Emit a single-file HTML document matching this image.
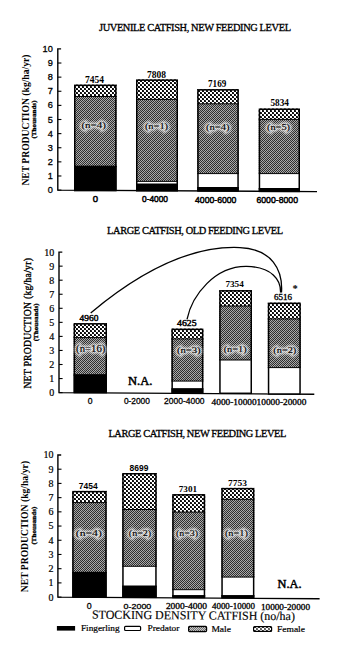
<!DOCTYPE html><html><head><meta charset="utf-8"><style>html,body{margin:0;padding:0;background:#fff;}svg{display:block;}</style></head><body>
<svg width="350" height="650" viewBox="0 0 350 650">
<defs>
<pattern id="xh" patternUnits="userSpaceOnUse" width="4" height="4"><rect width="4" height="4" fill="#fff"/><rect x="0" y="0" width="2" height="2" fill="#0a0a0a"/><rect x="2" y="2" width="2" height="2" fill="#0a0a0a"/><rect x="1" y="0" width="1" height="1" fill="#303030"/><rect x="3" y="2" width="1" height="1" fill="#303030"/></pattern>
<pattern id="mh" patternUnits="userSpaceOnUse" width="6" height="6"><rect x="0" y="0" width="1" height="1" fill="#2a2a2a"/><rect x="1" y="0" width="1" height="1" fill="#aeaeae"/><rect x="2" y="0" width="1" height="1" fill="#2a2a2a"/><rect x="3" y="0" width="1" height="1" fill="#aeaeae"/><rect x="4" y="0" width="1" height="1" fill="#3c3c3c"/><rect x="5" y="0" width="1" height="1" fill="#9a9a9a"/><rect x="0" y="1" width="1" height="1" fill="#aeaeae"/><rect x="1" y="1" width="1" height="1" fill="#2a2a2a"/><rect x="2" y="1" width="1" height="1" fill="#aeaeae"/><rect x="3" y="1" width="1" height="1" fill="#3c3c3c"/><rect x="4" y="1" width="1" height="1" fill="#9a9a9a"/><rect x="5" y="1" width="1" height="1" fill="#2a2a2a"/><rect x="0" y="2" width="1" height="1" fill="#2a2a2a"/><rect x="1" y="2" width="1" height="1" fill="#aeaeae"/><rect x="2" y="2" width="1" height="1" fill="#3c3c3c"/><rect x="3" y="2" width="1" height="1" fill="#9a9a9a"/><rect x="4" y="2" width="1" height="1" fill="#2a2a2a"/><rect x="5" y="2" width="1" height="1" fill="#aeaeae"/><rect x="0" y="3" width="1" height="1" fill="#aeaeae"/><rect x="1" y="3" width="1" height="1" fill="#3c3c3c"/><rect x="2" y="3" width="1" height="1" fill="#9a9a9a"/><rect x="3" y="3" width="1" height="1" fill="#2a2a2a"/><rect x="4" y="3" width="1" height="1" fill="#aeaeae"/><rect x="5" y="3" width="1" height="1" fill="#2a2a2a"/><rect x="0" y="4" width="1" height="1" fill="#3c3c3c"/><rect x="1" y="4" width="1" height="1" fill="#9a9a9a"/><rect x="2" y="4" width="1" height="1" fill="#2a2a2a"/><rect x="3" y="4" width="1" height="1" fill="#aeaeae"/><rect x="4" y="4" width="1" height="1" fill="#2a2a2a"/><rect x="5" y="4" width="1" height="1" fill="#aeaeae"/><rect x="0" y="5" width="1" height="1" fill="#9a9a9a"/><rect x="1" y="5" width="1" height="1" fill="#2a2a2a"/><rect x="2" y="5" width="1" height="1" fill="#aeaeae"/><rect x="3" y="5" width="1" height="1" fill="#2a2a2a"/><rect x="4" y="5" width="1" height="1" fill="#aeaeae"/><rect x="5" y="5" width="1" height="1" fill="#3c3c3c"/></pattern>
<filter id="blr" x="-20%" y="-50%" width="140%" height="200%"><feGaussianBlur stdDeviation="0.8"/></filter>
</defs>
<rect width="350" height="650" fill="#fff"/>
<text x="99" y="30.6" font-size="10.4" font-family='"Liberation Serif", serif' font-weight="normal" text-anchor="start" textLength="192" lengthAdjust="spacing" stroke="#000" stroke-width="0.3">JUVENILE CATFISH, NEW FEEDING LEVEL</text>
<path d="M61.099999999999994,48.9 L57.8,48.9 L57.8,190.1 L317,191.6" fill="none" stroke="#000" stroke-width="1.4"/>
<line x1="57.8" y1="190.10" x2="61.4" y2="190.10" stroke="#000" stroke-width="1.1"/>
<line x1="57.8" y1="175.98" x2="61.4" y2="175.98" stroke="#000" stroke-width="1.1"/>
<line x1="57.8" y1="161.86" x2="61.4" y2="161.86" stroke="#000" stroke-width="1.1"/>
<line x1="57.8" y1="147.74" x2="61.4" y2="147.74" stroke="#000" stroke-width="1.1"/>
<line x1="57.8" y1="133.62" x2="61.4" y2="133.62" stroke="#000" stroke-width="1.1"/>
<line x1="57.8" y1="119.50" x2="61.4" y2="119.50" stroke="#000" stroke-width="1.1"/>
<line x1="57.8" y1="105.38" x2="61.4" y2="105.38" stroke="#000" stroke-width="1.1"/>
<line x1="57.8" y1="91.26" x2="61.4" y2="91.26" stroke="#000" stroke-width="1.1"/>
<line x1="57.8" y1="77.14" x2="61.4" y2="77.14" stroke="#000" stroke-width="1.1"/>
<line x1="57.8" y1="63.02" x2="61.4" y2="63.02" stroke="#000" stroke-width="1.1"/>
<text x="52.8" y="193.10" font-size="9.2" font-family='"Liberation Sans", sans-serif' font-weight="normal" text-anchor="end" stroke="#000" stroke-width="0.3">0</text>
<text x="52.8" y="178.98" font-size="9.2" font-family='"Liberation Sans", sans-serif' font-weight="normal" text-anchor="end" stroke="#000" stroke-width="0.3">1</text>
<text x="52.8" y="164.86" font-size="9.2" font-family='"Liberation Sans", sans-serif' font-weight="normal" text-anchor="end" stroke="#000" stroke-width="0.3">2</text>
<text x="52.8" y="150.74" font-size="9.2" font-family='"Liberation Sans", sans-serif' font-weight="normal" text-anchor="end" stroke="#000" stroke-width="0.3">3</text>
<text x="52.8" y="136.62" font-size="9.2" font-family='"Liberation Sans", sans-serif' font-weight="normal" text-anchor="end" stroke="#000" stroke-width="0.3">4</text>
<text x="52.8" y="122.50" font-size="9.2" font-family='"Liberation Sans", sans-serif' font-weight="normal" text-anchor="end" stroke="#000" stroke-width="0.3">5</text>
<text x="52.8" y="108.38" font-size="9.2" font-family='"Liberation Sans", sans-serif' font-weight="normal" text-anchor="end" stroke="#000" stroke-width="0.3">6</text>
<text x="52.8" y="94.26" font-size="9.2" font-family='"Liberation Sans", sans-serif' font-weight="normal" text-anchor="end" stroke="#000" stroke-width="0.3">7</text>
<text x="52.8" y="80.14" font-size="9.2" font-family='"Liberation Sans", sans-serif' font-weight="normal" text-anchor="end" stroke="#000" stroke-width="0.3">8</text>
<text x="52.8" y="66.02" font-size="9.2" font-family='"Liberation Sans", sans-serif' font-weight="normal" text-anchor="end" stroke="#000" stroke-width="0.3">9</text>
<text x="52.8" y="51.90" font-size="9.2" font-family='"Liberation Sans", sans-serif' font-weight="normal" text-anchor="end" stroke="#000" stroke-width="0.3">10</text>
<text transform="translate(29.3,185.6) rotate(-90)" x="0" y="0" font-size="9.6" font-family='"Liberation Serif", serif' font-weight="bold" textLength="131" lengthAdjust="spacing" >NET PRODUCTION (kg/ha/yr)</text>
<text transform="translate(36.3,138.5) rotate(-90)" x="0" y="0" font-size="7" font-family='"Liberation Serif", serif' font-weight="bold" textLength="38" lengthAdjust="spacing" stroke="#000" stroke-width="0.3">(Thousands)</text>
<rect x="74" y="84.6" width="42.599999999999994" height="11.900000000000006" fill="url(#xh)"/>
<rect x="74" y="96.5" width="42.599999999999994" height="69.80000000000001" fill="url(#mh)"/>
<rect x="74" y="166.3" width="42.599999999999994" height="24.299999999999983" fill="#000"/>
<line x1="74" y1="96.5" x2="116.6" y2="96.5" stroke="#000" stroke-width="1"/>
<line x1="74" y1="166.3" x2="116.6" y2="166.3" stroke="#000" stroke-width="1"/>
<line x1="74" y1="166.3" x2="116.6" y2="166.3" stroke="#000" stroke-width="1"/>
<rect x="74.75" y="85.35" width="41.099999999999994" height="105.25" fill="none" stroke="#000" stroke-width="1.5"/>
<rect x="136" y="79.4" width="42" height="20.0" fill="url(#xh)"/>
<rect x="136" y="99.4" width="42" height="82.0" fill="url(#mh)"/>
<rect x="136" y="181.4" width="42" height="2.5999999999999943" fill="#fff"/>
<rect x="136" y="184" width="42" height="6.800000000000011" fill="#000"/>
<line x1="136" y1="99.4" x2="178" y2="99.4" stroke="#000" stroke-width="1"/>
<line x1="136" y1="181.4" x2="178" y2="181.4" stroke="#000" stroke-width="1"/>
<line x1="136" y1="184" x2="178" y2="184" stroke="#000" stroke-width="1"/>
<rect x="136.75" y="80.15" width="40.5" height="110.65" fill="none" stroke="#000" stroke-width="1.5"/>
<rect x="197.2" y="89.1" width="41.60000000000002" height="14.700000000000003" fill="url(#xh)"/>
<rect x="197.2" y="103.8" width="41.60000000000002" height="69.8" fill="url(#mh)"/>
<rect x="197.2" y="173.6" width="41.60000000000002" height="13.900000000000006" fill="#fff"/>
<rect x="197.2" y="187.5" width="41.60000000000002" height="3.5" fill="#000"/>
<line x1="197.2" y1="103.8" x2="238.8" y2="103.8" stroke="#000" stroke-width="1"/>
<line x1="197.2" y1="173.6" x2="238.8" y2="173.6" stroke="#000" stroke-width="1"/>
<line x1="197.2" y1="187.5" x2="238.8" y2="187.5" stroke="#000" stroke-width="1"/>
<rect x="197.95" y="89.85" width="40.10000000000002" height="101.15" fill="none" stroke="#000" stroke-width="1.5"/>
<rect x="258.7" y="108.5" width="41.30000000000001" height="10.900000000000006" fill="url(#xh)"/>
<rect x="258.7" y="119.4" width="41.30000000000001" height="54.19999999999999" fill="url(#mh)"/>
<rect x="258.7" y="173.6" width="41.30000000000001" height="14.900000000000006" fill="#fff"/>
<rect x="258.7" y="188.5" width="41.30000000000001" height="2.9000000000000057" fill="#000"/>
<line x1="258.7" y1="119.4" x2="300" y2="119.4" stroke="#000" stroke-width="1"/>
<line x1="258.7" y1="173.6" x2="300" y2="173.6" stroke="#000" stroke-width="1"/>
<line x1="258.7" y1="188.5" x2="300" y2="188.5" stroke="#000" stroke-width="1"/>
<rect x="259.45" y="109.25" width="39.80000000000001" height="82.15" fill="none" stroke="#000" stroke-width="1.5"/>
<text x="94.6" y="82.9" font-size="9.5" font-family='"Liberation Serif", serif' font-weight="bold" text-anchor="middle" textLength="19" lengthAdjust="spacingAndGlyphs" >7454</text>
<text x="156.5" y="77.6" font-size="9.5" font-family='"Liberation Serif", serif' font-weight="bold" text-anchor="middle" textLength="19" lengthAdjust="spacingAndGlyphs" >7808</text>
<text x="217.2" y="87" font-size="9.5" font-family='"Liberation Serif", serif' font-weight="bold" text-anchor="middle" textLength="18.3" lengthAdjust="spacingAndGlyphs" >7169</text>
<text x="279.7" y="105.7" font-size="9.5" font-family='"Liberation Serif", serif' font-weight="bold" text-anchor="middle" textLength="18.5" lengthAdjust="spacingAndGlyphs" >5834</text>
<text x="93.6" y="128.4" font-size="8" font-family='"Liberation Serif", serif' text-anchor="middle" stroke="#fff" stroke-width="3.2" fill="#fff" filter="url(#blr)" opacity="0.7" textLength="24.4" lengthAdjust="spacingAndGlyphs">(n=4)</text>
<text x="93.6" y="128.4" font-size="8" font-family='"Liberation Serif", serif' font-weight="normal" stroke="#000" stroke-width="0.12" text-anchor="middle" fill="#000" textLength="24.4" lengthAdjust="spacingAndGlyphs">(n=4)</text>
<text x="156.5" y="129.4" font-size="8" font-family='"Liberation Serif", serif' text-anchor="middle" stroke="#fff" stroke-width="3.2" fill="#fff" filter="url(#blr)" opacity="0.7" textLength="23.2" lengthAdjust="spacingAndGlyphs">(n=1)</text>
<text x="156.5" y="129.4" font-size="8" font-family='"Liberation Serif", serif' font-weight="normal" stroke="#000" stroke-width="0.12" text-anchor="middle" fill="#000" textLength="23.2" lengthAdjust="spacingAndGlyphs">(n=1)</text>
<text x="217.8" y="129.79999999999998" font-size="8" font-family='"Liberation Serif", serif' text-anchor="middle" stroke="#fff" stroke-width="3.2" fill="#fff" filter="url(#blr)" opacity="0.7" textLength="23.6" lengthAdjust="spacingAndGlyphs">(n=4)</text>
<text x="217.8" y="129.79999999999998" font-size="8" font-family='"Liberation Serif", serif' font-weight="normal" stroke="#000" stroke-width="0.12" text-anchor="middle" fill="#000" textLength="23.6" lengthAdjust="spacingAndGlyphs">(n=4)</text>
<text x="278.5" y="129.9" font-size="8" font-family='"Liberation Serif", serif' text-anchor="middle" stroke="#fff" stroke-width="3.2" fill="#fff" filter="url(#blr)" opacity="0.7" textLength="23" lengthAdjust="spacingAndGlyphs">(n=5)</text>
<text x="278.5" y="129.9" font-size="8" font-family='"Liberation Serif", serif' font-weight="normal" stroke="#000" stroke-width="0.12" text-anchor="middle" fill="#000" textLength="23" lengthAdjust="spacingAndGlyphs">(n=5)</text>
<text x="95.3" y="202" font-size="9.5" font-family='"Liberation Sans", sans-serif' font-weight="normal" text-anchor="middle" stroke="#000" stroke-width="0.5">0</text>
<text x="142" y="202.4" font-size="9.3" font-family='"Liberation Sans", sans-serif' font-weight="normal" text-anchor="start" textLength="26" lengthAdjust="spacingAndGlyphs" stroke="#000" stroke-width="0.5">0-4000</text>
<text x="195" y="202.9" font-size="9.6" font-family='"Liberation Sans", sans-serif' font-weight="normal" text-anchor="start" textLength="41.4" lengthAdjust="spacingAndGlyphs" stroke="#000" stroke-width="0.5">4000-6000</text>
<text x="256.4" y="203.2" font-size="9.6" font-family='"Liberation Sans", sans-serif' font-weight="normal" text-anchor="start" textLength="41.6" lengthAdjust="spacingAndGlyphs" stroke="#000" stroke-width="0.5">6000-8000</text>
<text x="107.1" y="233.9" font-size="10.4" font-family='"Liberation Serif", serif' font-weight="normal" text-anchor="start" textLength="176" lengthAdjust="spacing" stroke="#000" stroke-width="0.3">LARGE CATFISH, OLD FEEDING LEVEL</text>
<path d="M62.3,252.1 L59.0,252.1 L59.0,392.6 L314.3,394.3" fill="none" stroke="#000" stroke-width="1.4"/>
<line x1="59.0" y1="392.60" x2="62.6" y2="392.60" stroke="#000" stroke-width="1.1"/>
<line x1="59.0" y1="378.55" x2="62.6" y2="378.55" stroke="#000" stroke-width="1.1"/>
<line x1="59.0" y1="364.50" x2="62.6" y2="364.50" stroke="#000" stroke-width="1.1"/>
<line x1="59.0" y1="350.45" x2="62.6" y2="350.45" stroke="#000" stroke-width="1.1"/>
<line x1="59.0" y1="336.40" x2="62.6" y2="336.40" stroke="#000" stroke-width="1.1"/>
<line x1="59.0" y1="322.35" x2="62.6" y2="322.35" stroke="#000" stroke-width="1.1"/>
<line x1="59.0" y1="308.30" x2="62.6" y2="308.30" stroke="#000" stroke-width="1.1"/>
<line x1="59.0" y1="294.25" x2="62.6" y2="294.25" stroke="#000" stroke-width="1.1"/>
<line x1="59.0" y1="280.20" x2="62.6" y2="280.20" stroke="#000" stroke-width="1.1"/>
<line x1="59.0" y1="266.15" x2="62.6" y2="266.15" stroke="#000" stroke-width="1.1"/>
<text x="54.3" y="396.00" font-size="10" font-family='"Liberation Serif", serif' font-weight="normal" text-anchor="end" stroke="#000" stroke-width="0.2">0</text>
<text x="54.3" y="381.95" font-size="10" font-family='"Liberation Serif", serif' font-weight="normal" text-anchor="end" stroke="#000" stroke-width="0.2">1</text>
<text x="54.3" y="367.90" font-size="10" font-family='"Liberation Serif", serif' font-weight="normal" text-anchor="end" stroke="#000" stroke-width="0.2">2</text>
<text x="54.3" y="353.85" font-size="10" font-family='"Liberation Serif", serif' font-weight="normal" text-anchor="end" stroke="#000" stroke-width="0.2">3</text>
<text x="54.3" y="339.80" font-size="10" font-family='"Liberation Serif", serif' font-weight="normal" text-anchor="end" stroke="#000" stroke-width="0.2">4</text>
<text x="54.3" y="325.75" font-size="10" font-family='"Liberation Serif", serif' font-weight="normal" text-anchor="end" stroke="#000" stroke-width="0.2">5</text>
<text x="54.3" y="311.70" font-size="10" font-family='"Liberation Serif", serif' font-weight="normal" text-anchor="end" stroke="#000" stroke-width="0.2">6</text>
<text x="54.3" y="297.65" font-size="10" font-family='"Liberation Serif", serif' font-weight="normal" text-anchor="end" stroke="#000" stroke-width="0.2">7</text>
<text x="54.3" y="283.60" font-size="10" font-family='"Liberation Serif", serif' font-weight="normal" text-anchor="end" stroke="#000" stroke-width="0.2">8</text>
<text x="54.3" y="269.55" font-size="10" font-family='"Liberation Serif", serif' font-weight="normal" text-anchor="end" stroke="#000" stroke-width="0.2">9</text>
<text x="54.3" y="255.50" font-size="10" font-family='"Liberation Serif", serif' font-weight="normal" text-anchor="end" stroke="#000" stroke-width="0.2">10</text>
<text transform="translate(30.6,388.6) rotate(-90)" x="0" y="0" font-size="9.6" font-family='"Liberation Serif", serif' font-weight="normal" textLength="130.5" lengthAdjust="spacing" stroke="#000" stroke-width="0.35">NET PRODUCTION (kg/ha/yr)</text>
<text transform="translate(38,341.3) rotate(-90)" x="0" y="0" font-size="7" font-family='"Liberation Serif", serif' font-weight="bold" textLength="38" lengthAdjust="spacing" stroke="#000" stroke-width="0.3">(Thousands)</text>
<rect x="73.6" y="323.1" width="33.400000000000006" height="14.5" fill="url(#xh)"/>
<rect x="73.6" y="337.6" width="33.400000000000006" height="37.299999999999955" fill="url(#mh)"/>
<rect x="73.6" y="374.9" width="33.400000000000006" height="17.700000000000045" fill="#000"/>
<line x1="73.6" y1="337.6" x2="107" y2="337.6" stroke="#000" stroke-width="1"/>
<line x1="73.6" y1="374.9" x2="107" y2="374.9" stroke="#000" stroke-width="1"/>
<line x1="73.6" y1="374.9" x2="107" y2="374.9" stroke="#000" stroke-width="1"/>
<rect x="74.35" y="323.85" width="31.900000000000006" height="68.75" fill="none" stroke="#000" stroke-width="1.5"/>
<rect x="171.4" y="328.6" width="32.0" height="10.299999999999955" fill="url(#xh)"/>
<rect x="171.4" y="338.9" width="32.0" height="42.200000000000045" fill="url(#mh)"/>
<rect x="171.4" y="381.1" width="32.0" height="7.599999999999966" fill="#fff"/>
<rect x="171.4" y="388.7" width="32.0" height="4.199999999999989" fill="#000"/>
<line x1="171.4" y1="338.9" x2="203.4" y2="338.9" stroke="#000" stroke-width="1"/>
<line x1="171.4" y1="381.1" x2="203.4" y2="381.1" stroke="#000" stroke-width="1"/>
<line x1="171.4" y1="388.7" x2="203.4" y2="388.7" stroke="#000" stroke-width="1"/>
<rect x="172.15" y="329.35" width="30.5" height="63.549999999999955" fill="none" stroke="#000" stroke-width="1.5"/>
<rect x="219.2" y="290.1" width="32.80000000000001" height="15.899999999999977" fill="url(#xh)"/>
<rect x="219.2" y="306" width="32.80000000000001" height="54" fill="url(#mh)"/>
<rect x="219.2" y="360" width="32.80000000000001" height="33.30000000000001" fill="#fff"/>
<line x1="219.2" y1="306" x2="252" y2="306" stroke="#000" stroke-width="1"/>
<line x1="219.2" y1="360" x2="252" y2="360" stroke="#000" stroke-width="1"/>
<rect x="219.95" y="290.85" width="31.30000000000001" height="102.44999999999999" fill="none" stroke="#000" stroke-width="1.5"/>
<rect x="267.8" y="302.6" width="33.0" height="16.299999999999955" fill="url(#xh)"/>
<rect x="267.8" y="318.9" width="33.0" height="48.700000000000045" fill="url(#mh)"/>
<rect x="267.8" y="367.6" width="33.0" height="26.399999999999977" fill="#fff"/>
<line x1="267.8" y1="318.9" x2="300.8" y2="318.9" stroke="#000" stroke-width="1"/>
<line x1="267.8" y1="367.6" x2="300.8" y2="367.6" stroke="#000" stroke-width="1"/>
<rect x="268.55" y="303.35" width="31.5" height="90.64999999999998" fill="none" stroke="#000" stroke-width="1.5"/>
<text x="89" y="320.6" font-size="9" font-family='"Liberation Serif", serif' font-weight="normal" text-anchor="middle" textLength="18.8" lengthAdjust="spacingAndGlyphs" stroke="#000" stroke-width="0.45">4960</text>
<text x="186.8" y="325.6" font-size="9" font-family='"Liberation Serif", serif' font-weight="normal" text-anchor="middle" textLength="19.5" lengthAdjust="spacingAndGlyphs" stroke="#000" stroke-width="0.45">4625</text>
<text x="234.6" y="287.3" font-size="9" font-family='"Liberation Serif", serif' font-weight="bold" text-anchor="middle" textLength="18.4" lengthAdjust="spacingAndGlyphs" >7354</text>
<text x="282.9" y="299.7" font-size="9" font-family='"Liberation Serif", serif' font-weight="normal" text-anchor="middle" textLength="18" lengthAdjust="spacingAndGlyphs" stroke="#000" stroke-width="0.35">6516</text>
<text x="295" y="292.3" font-size="10.5" font-family='"Liberation Serif", serif' font-weight="bold" text-anchor="middle" >*</text>
<text x="90.7" y="352.4" font-size="9.5" font-family='"Liberation Serif", serif' text-anchor="middle" stroke="#fff" stroke-width="3.2" fill="#fff" filter="url(#blr)" opacity="0.7" textLength="29.2" lengthAdjust="spacingAndGlyphs">(n=16)</text>
<text x="90.7" y="352.4" font-size="9.5" font-family='"Liberation Serif", serif' font-weight="normal" stroke="#000" stroke-width="0.12" text-anchor="middle" fill="#000" textLength="29.2" lengthAdjust="spacingAndGlyphs">(n=16)</text>
<text x="188.8" y="352.7" font-size="8" font-family='"Liberation Serif", serif' text-anchor="middle" stroke="#fff" stroke-width="3.2" fill="#fff" filter="url(#blr)" opacity="0.7" textLength="23.7" lengthAdjust="spacingAndGlyphs">(n=3)</text>
<text x="188.8" y="352.7" font-size="8" font-family='"Liberation Serif", serif' font-weight="normal" stroke="#000" stroke-width="0.12" text-anchor="middle" fill="#000" textLength="23.7" lengthAdjust="spacingAndGlyphs">(n=3)</text>
<text x="235.2" y="352.3" font-size="8" font-family='"Liberation Serif", serif' text-anchor="middle" stroke="#fff" stroke-width="3.2" fill="#fff" filter="url(#blr)" opacity="0.7" textLength="23" lengthAdjust="spacingAndGlyphs">(n=1)</text>
<text x="235.2" y="352.3" font-size="8" font-family='"Liberation Serif", serif' font-weight="normal" stroke="#000" stroke-width="0.12" text-anchor="middle" fill="#000" textLength="23" lengthAdjust="spacingAndGlyphs">(n=1)</text>
<text x="284.8" y="353.3" font-size="8" font-family='"Liberation Serif", serif' text-anchor="middle" stroke="#fff" stroke-width="3.2" fill="#fff" filter="url(#blr)" opacity="0.7" textLength="23" lengthAdjust="spacingAndGlyphs">(n=2)</text>
<text x="284.8" y="353.3" font-size="8" font-family='"Liberation Serif", serif' font-weight="normal" stroke="#000" stroke-width="0.12" text-anchor="middle" fill="#000" textLength="23" lengthAdjust="spacingAndGlyphs">(n=2)</text>
<text x="140.2" y="385" font-size="12.5" font-family='"Liberation Serif", serif' font-weight="normal" text-anchor="middle" textLength="24.4" lengthAdjust="spacingAndGlyphs" stroke="#000" stroke-width="0.5">N.A.</text>
<text x="90.2" y="404.1" font-size="8.6" font-family='"Liberation Sans", sans-serif' font-weight="normal" text-anchor="middle" stroke="#000" stroke-width="0.3">0</text>
<text x="123.9" y="404.1" font-size="8.6" font-family='"Liberation Sans", sans-serif' font-weight="normal" text-anchor="start" textLength="26" lengthAdjust="spacingAndGlyphs" stroke="#000" stroke-width="0.3">0-2000</text>
<text x="164.1" y="404.2" font-size="8.6" font-family='"Liberation Sans", sans-serif' font-weight="normal" text-anchor="start" textLength="40.5" lengthAdjust="spacingAndGlyphs" stroke="#000" stroke-width="0.3">2000-4000</text>
<text x="211.6" y="404.8" font-size="8" font-family='"Liberation Serif", serif' font-weight="normal" text-anchor="start" textLength="94.7" lengthAdjust="spacingAndGlyphs" stroke="#000" stroke-width="0.3">4000-1000010000-20000</text>
<path d="M90.7,312.9 C130,280 185,245 240,247.6 C272,249 283,270 281.5,292.5" fill="none" stroke="#000" stroke-width="1.3"/>
<path d="M187,319.4 C192,295 215,266 246.6,266.4 C272,267 281,280 280.5,292.5" fill="none" stroke="#000" stroke-width="1.3"/>
<text x="108.4" y="436.8" font-size="10.4" font-family='"Liberation Serif", serif' font-weight="normal" text-anchor="start" textLength="178" lengthAdjust="spacing" stroke="#000" stroke-width="0.3">LARGE CATFISH, NEW FEEDING LEVEL</text>
<path d="M61.199999999999996,455.0 L57.9,455.0 L57.9,597.1 L319.6,598.8" fill="none" stroke="#000" stroke-width="1.4"/>
<line x1="57.9" y1="597.10" x2="61.5" y2="597.10" stroke="#000" stroke-width="1.1"/>
<line x1="57.9" y1="582.89" x2="61.5" y2="582.89" stroke="#000" stroke-width="1.1"/>
<line x1="57.9" y1="568.68" x2="61.5" y2="568.68" stroke="#000" stroke-width="1.1"/>
<line x1="57.9" y1="554.47" x2="61.5" y2="554.47" stroke="#000" stroke-width="1.1"/>
<line x1="57.9" y1="540.26" x2="61.5" y2="540.26" stroke="#000" stroke-width="1.1"/>
<line x1="57.9" y1="526.05" x2="61.5" y2="526.05" stroke="#000" stroke-width="1.1"/>
<line x1="57.9" y1="511.84" x2="61.5" y2="511.84" stroke="#000" stroke-width="1.1"/>
<line x1="57.9" y1="497.63" x2="61.5" y2="497.63" stroke="#000" stroke-width="1.1"/>
<line x1="57.9" y1="483.42" x2="61.5" y2="483.42" stroke="#000" stroke-width="1.1"/>
<line x1="57.9" y1="469.21" x2="61.5" y2="469.21" stroke="#000" stroke-width="1.1"/>
<text x="53.4" y="600.50" font-size="10" font-family='"Liberation Serif", serif' font-weight="normal" text-anchor="end" stroke="#000" stroke-width="0.2">0</text>
<text x="53.4" y="586.29" font-size="10" font-family='"Liberation Serif", serif' font-weight="normal" text-anchor="end" stroke="#000" stroke-width="0.2">1</text>
<text x="53.4" y="572.08" font-size="10" font-family='"Liberation Serif", serif' font-weight="normal" text-anchor="end" stroke="#000" stroke-width="0.2">2</text>
<text x="53.4" y="557.87" font-size="10" font-family='"Liberation Serif", serif' font-weight="normal" text-anchor="end" stroke="#000" stroke-width="0.2">3</text>
<text x="53.4" y="543.66" font-size="10" font-family='"Liberation Serif", serif' font-weight="normal" text-anchor="end" stroke="#000" stroke-width="0.2">4</text>
<text x="53.4" y="529.45" font-size="10" font-family='"Liberation Serif", serif' font-weight="normal" text-anchor="end" stroke="#000" stroke-width="0.2">5</text>
<text x="53.4" y="515.24" font-size="10" font-family='"Liberation Serif", serif' font-weight="normal" text-anchor="end" stroke="#000" stroke-width="0.2">6</text>
<text x="53.4" y="501.03" font-size="10" font-family='"Liberation Serif", serif' font-weight="normal" text-anchor="end" stroke="#000" stroke-width="0.2">7</text>
<text x="53.4" y="486.82" font-size="10" font-family='"Liberation Serif", serif' font-weight="normal" text-anchor="end" stroke="#000" stroke-width="0.2">8</text>
<text x="53.4" y="472.61" font-size="10" font-family='"Liberation Serif", serif' font-weight="normal" text-anchor="end" stroke="#000" stroke-width="0.2">9</text>
<text x="53.4" y="458.40" font-size="10" font-family='"Liberation Serif", serif' font-weight="normal" text-anchor="end" stroke="#000" stroke-width="0.2">10</text>
<text transform="translate(27.8,592.2) rotate(-90)" x="0" y="0" font-size="9.6" font-family='"Liberation Serif", serif' font-weight="bold" textLength="131.3" lengthAdjust="spacing" >NET PRODUCTION (kg/ha/yr)</text>
<text transform="translate(35.6,544.6) rotate(-90)" x="0" y="0" font-size="7" font-family='"Liberation Serif", serif' font-weight="bold" textLength="38" lengthAdjust="spacing" stroke="#000" stroke-width="0.3">(Thousands)</text>
<rect x="72.2" y="490.9" width="34.5" height="11.700000000000045" fill="url(#xh)"/>
<rect x="72.2" y="502.6" width="34.5" height="69.79999999999995" fill="url(#mh)"/>
<rect x="72.2" y="572.4" width="34.5" height="24.700000000000045" fill="#000"/>
<line x1="72.2" y1="502.6" x2="106.7" y2="502.6" stroke="#000" stroke-width="1"/>
<line x1="72.2" y1="572.4" x2="106.7" y2="572.4" stroke="#000" stroke-width="1"/>
<line x1="72.2" y1="572.4" x2="106.7" y2="572.4" stroke="#000" stroke-width="1"/>
<rect x="72.95" y="491.65" width="33.0" height="105.45000000000005" fill="none" stroke="#000" stroke-width="1.5"/>
<rect x="122.2" y="473" width="34.499999999999986" height="36.5" fill="url(#xh)"/>
<rect x="122.2" y="509.5" width="34.499999999999986" height="56.799999999999955" fill="url(#mh)"/>
<rect x="122.2" y="566.3" width="34.499999999999986" height="19.700000000000045" fill="#fff"/>
<rect x="122.2" y="586" width="34.499999999999986" height="11.299999999999955" fill="#000"/>
<line x1="122.2" y1="509.5" x2="156.7" y2="509.5" stroke="#000" stroke-width="1"/>
<line x1="122.2" y1="566.3" x2="156.7" y2="566.3" stroke="#000" stroke-width="1"/>
<line x1="122.2" y1="586" x2="156.7" y2="586" stroke="#000" stroke-width="1"/>
<rect x="122.95" y="473.75" width="32.999999999999986" height="123.54999999999995" fill="none" stroke="#000" stroke-width="1.5"/>
<rect x="172.2" y="494.1" width="33.0" height="18.0" fill="url(#xh)"/>
<rect x="172.2" y="512.1" width="33.0" height="77.60000000000002" fill="url(#mh)"/>
<rect x="172.2" y="589.7" width="33.0" height="5.899999999999977" fill="#fff"/>
<rect x="172.2" y="595.6" width="33.0" height="1.8999999999999773" fill="#000"/>
<line x1="172.2" y1="512.1" x2="205.2" y2="512.1" stroke="#000" stroke-width="1"/>
<line x1="172.2" y1="589.7" x2="205.2" y2="589.7" stroke="#000" stroke-width="1"/>
<line x1="172.2" y1="595.6" x2="205.2" y2="595.6" stroke="#000" stroke-width="1"/>
<rect x="172.95" y="494.85" width="31.5" height="102.64999999999998" fill="none" stroke="#000" stroke-width="1.5"/>
<rect x="221.3" y="487.9" width="33.099999999999994" height="11.400000000000034" fill="url(#xh)"/>
<rect x="221.3" y="499.3" width="33.099999999999994" height="77.80000000000001" fill="url(#mh)"/>
<rect x="221.3" y="577.1" width="33.099999999999994" height="18.5" fill="#fff"/>
<rect x="221.3" y="595.6" width="33.099999999999994" height="2.199999999999932" fill="#000"/>
<line x1="221.3" y1="499.3" x2="254.4" y2="499.3" stroke="#000" stroke-width="1"/>
<line x1="221.3" y1="577.1" x2="254.4" y2="577.1" stroke="#000" stroke-width="1"/>
<line x1="221.3" y1="595.6" x2="254.4" y2="595.6" stroke="#000" stroke-width="1"/>
<rect x="222.05" y="488.65" width="31.599999999999994" height="109.14999999999998" fill="none" stroke="#000" stroke-width="1.5"/>
<text x="88.2" y="488.5" font-size="9" font-family='"Liberation Sans", sans-serif' font-weight="bold" text-anchor="middle" textLength="18.9" lengthAdjust="spacingAndGlyphs" >7454</text>
<text x="139" y="471.3" font-size="9" font-family='"Liberation Sans", sans-serif' font-weight="bold" text-anchor="middle" textLength="18.8" lengthAdjust="spacingAndGlyphs" >8699</text>
<text x="187.9" y="491.6" font-size="9" font-family='"Liberation Serif", serif' font-weight="bold" text-anchor="middle" textLength="18.3" lengthAdjust="spacingAndGlyphs" >7301</text>
<text x="237.5" y="485.9" font-size="9" font-family='"Liberation Serif", serif' font-weight="bold" text-anchor="middle" textLength="19" lengthAdjust="spacingAndGlyphs" >7753</text>
<text x="88.8" y="535.8000000000001" font-size="8" font-family='"Liberation Serif", serif' text-anchor="middle" stroke="#fff" stroke-width="3.2" fill="#fff" filter="url(#blr)" opacity="0.7" textLength="26" lengthAdjust="spacingAndGlyphs">(n=4)</text>
<text x="88.8" y="535.8000000000001" font-size="8" font-family='"Liberation Serif", serif' font-weight="normal" stroke="#000" stroke-width="0.12" text-anchor="middle" fill="#000" textLength="26" lengthAdjust="spacingAndGlyphs">(n=4)</text>
<text x="140" y="536.0" font-size="8" font-family='"Liberation Serif", serif' text-anchor="middle" stroke="#fff" stroke-width="3.2" fill="#fff" filter="url(#blr)" opacity="0.7" textLength="22.4" lengthAdjust="spacingAndGlyphs">(n=2)</text>
<text x="140" y="536.0" font-size="8" font-family='"Liberation Serif", serif' font-weight="normal" stroke="#000" stroke-width="0.12" text-anchor="middle" fill="#000" textLength="22.4" lengthAdjust="spacingAndGlyphs">(n=2)</text>
<text x="187" y="536.0" font-size="8" font-family='"Liberation Serif", serif' text-anchor="middle" stroke="#fff" stroke-width="3.2" fill="#fff" filter="url(#blr)" opacity="0.7" textLength="22" lengthAdjust="spacingAndGlyphs">(n=3)</text>
<text x="187" y="536.0" font-size="8" font-family='"Liberation Serif", serif' font-weight="normal" stroke="#000" stroke-width="0.12" text-anchor="middle" fill="#000" textLength="22" lengthAdjust="spacingAndGlyphs">(n=3)</text>
<text x="236.4" y="536.0" font-size="8" font-family='"Liberation Serif", serif' text-anchor="middle" stroke="#fff" stroke-width="3.2" fill="#fff" filter="url(#blr)" opacity="0.7" textLength="23" lengthAdjust="spacingAndGlyphs">(n=1)</text>
<text x="236.4" y="536.0" font-size="8" font-family='"Liberation Serif", serif' font-weight="normal" stroke="#000" stroke-width="0.12" text-anchor="middle" fill="#000" textLength="23" lengthAdjust="spacingAndGlyphs">(n=1)</text>
<text x="289.6" y="587.6" font-size="12.5" font-family='"Liberation Serif", serif' font-weight="normal" text-anchor="middle" textLength="24" lengthAdjust="spacingAndGlyphs" stroke="#000" stroke-width="0.5">N.A.</text>
<text x="89.1" y="608.8" font-size="8.8" font-family='"Liberation Sans", sans-serif' font-weight="normal" text-anchor="middle" stroke="#000" stroke-width="0.3">0</text>
<text x="123.6" y="608.6" font-size="8" font-family='"Liberation Sans", sans-serif' font-weight="normal" text-anchor="start" textLength="27.7" lengthAdjust="spacingAndGlyphs" stroke="#000" stroke-width="0.3">0-2000</text>
<text x="165.9" y="608.6" font-size="8" font-family='"Liberation Serif", serif' font-weight="normal" text-anchor="start" textLength="41" lengthAdjust="spacingAndGlyphs" stroke="#000" stroke-width="0.3">2000-4000</text>
<text x="212" y="609.2" font-size="8" font-family='"Liberation Serif", serif' font-weight="normal" text-anchor="start" textLength="43" lengthAdjust="spacingAndGlyphs" stroke="#000" stroke-width="0.3">4000-10000</text>
<text x="261" y="609.6" font-size="8" font-family='"Liberation Serif", serif' font-weight="normal" text-anchor="start" textLength="49" lengthAdjust="spacingAndGlyphs" stroke="#000" stroke-width="0.3">10000-20000</text>
<text x="91.9" y="618.6" font-size="12.3" font-family='"Liberation Serif", serif' font-weight="normal" text-anchor="start" textLength="203" lengthAdjust="spacingAndGlyphs" stroke="#000" stroke-width="0.15" transform="rotate(0.45 92 618)">STOCKING DENSITY CATFISH (no/ha)</text>
<rect x="56.9" y="626" width="18.2" height="4.6" fill="#000"/>
<text x="80.9" y="630.6" font-size="8.5" font-family='"Liberation Serif", serif' font-weight="normal" text-anchor="start" textLength="38.8" lengthAdjust="spacingAndGlyphs" stroke="#000" stroke-width="0.2">Fingerling</text>
<rect x="124.6" y="626.3" width="16" height="4.2" fill="#fff" stroke="#000" stroke-width="1.2" rx="1"/>
<text x="147.5" y="630.9" font-size="8.5" font-family='"Liberation Serif", serif' font-weight="normal" text-anchor="start" textLength="31.9" lengthAdjust="spacingAndGlyphs" stroke="#000" stroke-width="0.2">Predator</text>
<rect x="188.6" y="626.4" width="18" height="5.2" fill="url(#mh)" stroke="#000" stroke-width="1.2" rx="1"/>
<rect x="189.6" y="627.4" width="16" height="3.2" fill="#fff" opacity="0.35"/>
<text x="211.4" y="631.6" font-size="8.5" font-family='"Liberation Serif", serif' font-weight="normal" text-anchor="start" textLength="19.6" lengthAdjust="spacingAndGlyphs" stroke="#000" stroke-width="0.2">Male</text>
<rect x="253.6" y="626.6" width="18" height="4.8" fill="url(#xh)" stroke="#000" stroke-width="1.2" rx="1"/>
<rect x="254.6" y="627.6" width="16" height="2.8" fill="#fff" opacity="0.35"/>
<text x="277" y="632" font-size="8.5" font-family='"Liberation Serif", serif' font-weight="normal" text-anchor="start" textLength="28" lengthAdjust="spacingAndGlyphs" stroke="#000" stroke-width="0.2">Female</text>
</svg></body></html>
